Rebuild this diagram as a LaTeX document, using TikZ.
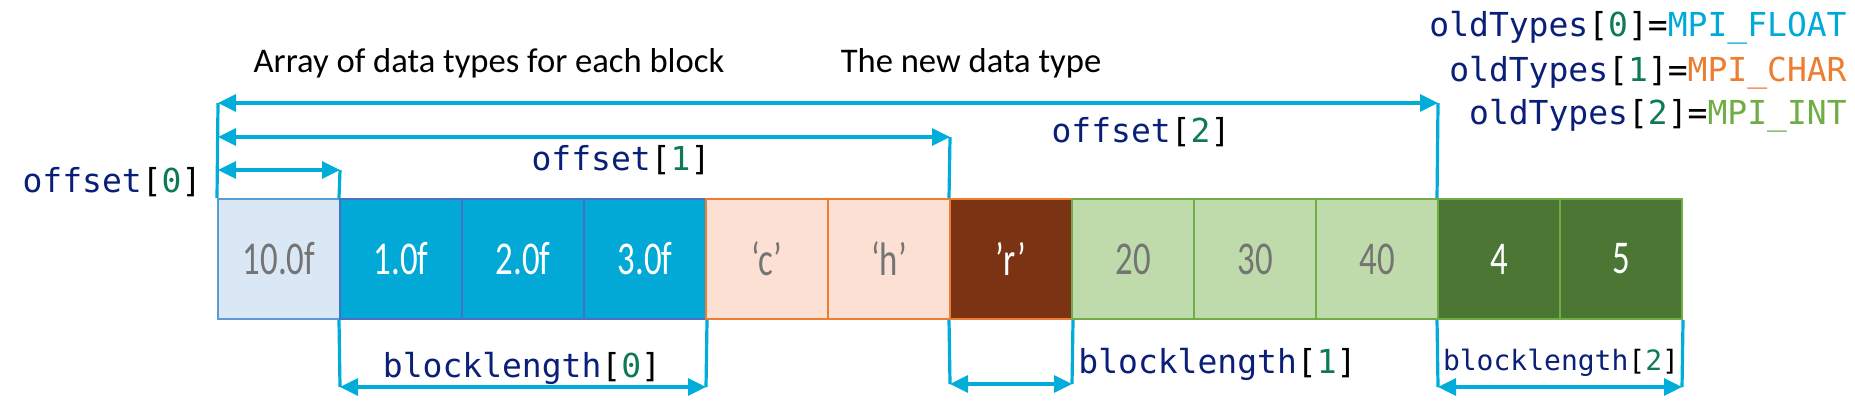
\documentclass[tikz,border=0pt]{standalone}
\usepackage{fontspec}
\setmainfont{Carlito}
\setmonofont{DejaVu Sans Mono}
\usepackage{graphicx}
\usetikzlibrary{arrows.meta}
\definecolor{arrowc}{HTML}{00ADD9}
\definecolor{navyc}{HTML}{0A1F78}
\definecolor{idxgreen}{HTML}{0E7A55}
\definecolor{graytxt}{HTML}{747474}
\definecolor{lbfill}{HTML}{DAE8F5}
\definecolor{lbdraw}{HTML}{5B9BD5}
\definecolor{bfill}{HTML}{02A9D6}
\definecolor{bdraw}{HTML}{4472C4}
\definecolor{pfill}{HTML}{FBE0D3}
\definecolor{odraw}{HTML}{ED7D31}
\definecolor{brfill}{HTML}{7B3314}
\definecolor{lgfill}{HTML}{C0DBAB}
\definecolor{gdraw}{HTML}{70AD47}
\definecolor{dgfill}{HTML}{4B7634}
\definecolor{floatc}{HTML}{00AAD8}
\newcommand\celltxt[1]{\scalebox{0.74}[1]{#1}}
\newcommand\myidx[1]{\textcolor{black}{[}\textcolor{idxgreen}{#1}\textcolor{black}{]}}
\tikzset{
  memcell/.style={minimum width=61pt, minimum height=60pt, inner sep=0pt, line width=1pt,
    font=\fontsize{23.5}{24}\selectfont},
  lightcell/.style={memcell, text=graytxt},
  darkcell/.style={memcell, text=white},
  dimline/.style={draw=arrowc, line width=1.6pt},
  dimarrow/.style={dimline, {Triangle[length=9pt,width=8.5pt]}-{Triangle[length=9pt,width=8.5pt]}},
  codelabel/.style={inner sep=0pt, anchor=base, text=navyc,
    font=\fontsize{16.5}{18}\selectfont\ttfamily},
  smallcode/.style={codelabel, font=\fontsize{14}{16}\selectfont\ttfamily},
  captext/.style={inner sep=0pt, anchor=base, text=black,
    font=\fontsize{17.3}{20}\selectfont},
}
\begin{document}
\begin{tikzpicture}[x=0.5pt,y=-0.5pt]
\useasboundingbox (0,0) rectangle (1855,404);
% cells
\node[lightcell, fill=lbfill, draw=lbdraw] (c0) at (279,259) {\celltxt{10.0f}};
\node[darkcell, fill=bfill, draw=bdraw] (c1) at (401,259) {\celltxt{1.0f}};
\node[darkcell, fill=bfill, draw=bdraw] (c2) at (523,259) {\celltxt{2.0f}};
\node[darkcell, fill=bfill, draw=bdraw] (c3) at (645,259) {\celltxt{3.0f}};
\node[lightcell, fill=pfill, draw=odraw] (c4) at (767,259) {\celltxt{‘c’}};
\node[lightcell, fill=pfill, draw=odraw] (c5) at (889,259) {\celltxt{‘h’}};
\node[darkcell, fill=brfill, draw=odraw] (c6) at (1011,259) {\celltxt{’r’}};
\node[lightcell, fill=lgfill, draw=gdraw] (c7) at (1133,259) {\celltxt{20}};
\node[lightcell, fill=lgfill, draw=gdraw] (c8) at (1255,259) {\celltxt{30}};
\node[lightcell, fill=lgfill, draw=gdraw] (c9) at (1377,259) {\celltxt{40}};
\node[darkcell, fill=dgfill, draw=gdraw] (c10) at (1499,259) {\celltxt{4}};
\node[darkcell, fill=dgfill, draw=gdraw] (c11) at (1621,259) {\celltxt{5}};
% upper dimension coordinates
\coordinate (tl) at (218,103);
\coordinate (tr) at (1438,103);
\coordinate (ml) at (218,137);
\coordinate (mr) at (950,137);
\coordinate (sl) at (218,170);
\coordinate (sr) at (340,170);
\draw[dimline] (tl) -- (c0.north west);
\draw[dimline] (sr) -- (c1.north west);
\draw[dimline] (mr) -- (c6.north west);
\draw[dimline] (tr) -- (c10.north west);
\draw[dimarrow] (tl) -- (tr);
\draw[dimarrow] (ml) -- (mr);
\draw[dimarrow] (sl) -- (sr);
% lower dimension coordinates
\coordinate (b0l) at (340,387);
\coordinate (b0r) at (706,387);
\coordinate (b1l) at (950,384);
\coordinate (b1r) at (1072,384);
\coordinate (b2l) at (1438,387);
\coordinate (b2r) at (1682,387);
\draw[dimline] (c1.south west) -- (b0l);
\draw[dimline] (c3.south east) -- (b0r);
\draw[dimline] (c6.south west) -- (b1l);
\draw[dimline] (c6.south east) -- (b1r);
\draw[dimline] (c10.south west) -- (b2l);
\draw[dimline] (c11.south east) -- (b2r);
\draw[dimarrow] (b0l) -- (b0r);
\draw[dimarrow] (b1l) -- (b1r);
\draw[dimarrow] (b2l) -- (b2r);
% captions
\node[captext] (capa) at (489,72) {Array of data types for each block};
\node[captext] (capn) at (971,72) {The new data type};
% code labels
\node[codelabel] (off0) at (112,192) {offset\myidx{0}};
\node[codelabel] (off1) at (621,170) {offset\myidx{1}};
\node[codelabel] (off2) at (1141,142) {offset\myidx{2}};
\node[codelabel, anchor=base east] (ot0) at (1847,36) {oldTypes\myidx{0}\textcolor{black}{=}\textcolor{floatc}{MPI\_FLOAT}};
\node[codelabel, anchor=base east] (ot1) at (1847,81) {oldTypes\myidx{1}\textcolor{black}{=}\textcolor{odraw}{MPI\_CHAR}};
\node[codelabel, anchor=base east] (ot2) at (1847,124) {oldTypes\myidx{2}\textcolor{black}{=}\textcolor{gdraw}{MPI\_INT}};
\node[codelabel] (bl0) at (522,377) {blocklength\myidx{0}};
\node[codelabel, anchor=base west] (bl1) at (1078,373) {blocklength\myidx{1}};
\node[smallcode] (bl2) at (1561,370) {blocklength\myidx{2}};
\end{tikzpicture}
\end{document}
